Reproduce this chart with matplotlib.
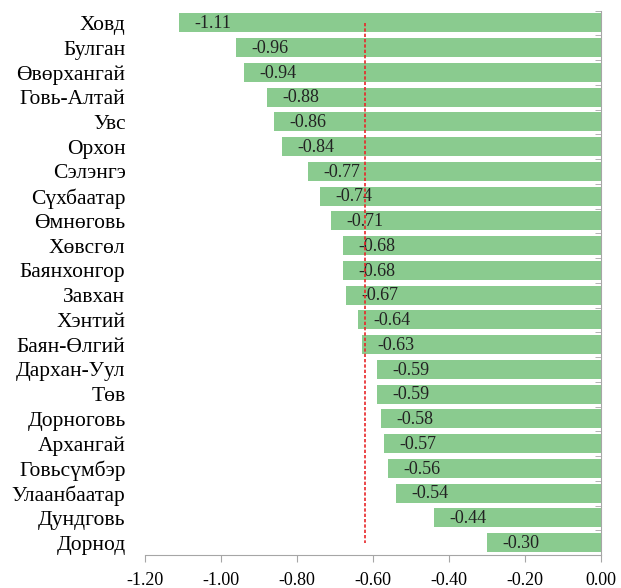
import matplotlib.pyplot as plt
import numpy as np

# Аймгууд ба утгууд
regions = ['Ховд', 'Булган', 'Өвөрхангай', 'Говь-Алтай', 'Увс', 'Орхон',
           'Сэлэнгэ', 'Сүхбаатар', 'Өмнөговь', 'Хөвсгөл', 'Баянхонгор',
           'Завхан', 'Хэнтий', 'Баян-Өлгий', 'Дархан-Уул', 'Төв', 'Дорноговь',
           'Архангай', 'Говьсүмбэр', 'Улаанбаатар', 'Дундговь', 'Дорнод']
values = [-1.11, -0.96, -0.94, -0.88, -0.86, -0.84, -0.77, -0.74, -0.71,
          -0.68, -0.68, -0.67, -0.64, -0.63, -0.59, -0.59, -0.58, -0.57,
          -0.56, -0.54, -0.44, -0.30]
ref_value = -0.62
xticks = [-1.20, -1.00, -0.80, -0.60, -0.40, -0.20, 0.00]

plt.rcParams['font.family'] = ['Liberation Serif', 'DejaVu Serif']

fig = plt.figure(figsize=(6.21, 5.88), dpi=100)
ax = fig.add_axes([0.2335, 0.0561, 0.7343, 0.926])

y = np.arange(len(regions))
ax.barh(y, values, height=0.77, color='#8ACB8F', zorder=2)

for yi, v in zip(y, values):
    ax.annotate(f'{v:.2f}', xy=(v, yi), xytext=(11, -0.5), textcoords='offset points',
                ha='left', va='center', fontsize=13, color='#222222', zorder=3)

# пунктир шугам
ax.plot([ref_value, ref_value], [y[0], y[-1]], color='#E8262A', linestyle=(0, (2, 1.2)),
        linewidth=1.2, zorder=4)

ax.set_xlim(-1.20, 0.0)
ax.set_ylim(len(regions) - 0.5, -0.5)
ax.set_xticks(xticks)
ax.set_xticklabels([f'{t:.2f}' for t in xticks], fontsize=13)
ax.set_yticks(y)
ax.set_yticklabels(regions, fontsize=15.5)
ax.set_yticks(np.arange(len(regions) + 1) - 0.5, minor=True)

ax.tick_params(axis='y', which='major', length=0, pad=14)
ax.tick_params(axis='y', which='minor', left=False, right=True, direction='in',
               length=4, color='#A6A6A6')
ax.tick_params(axis='x', direction='out', length=5, color='#A6A6A6', pad=7)

for s in ['top', 'left']:
    ax.spines[s].set_visible(False)
for s in ['bottom', 'right']:
    ax.spines[s].set_color('#A6A6A6')

fig.savefig('out.png', dpi=100)
